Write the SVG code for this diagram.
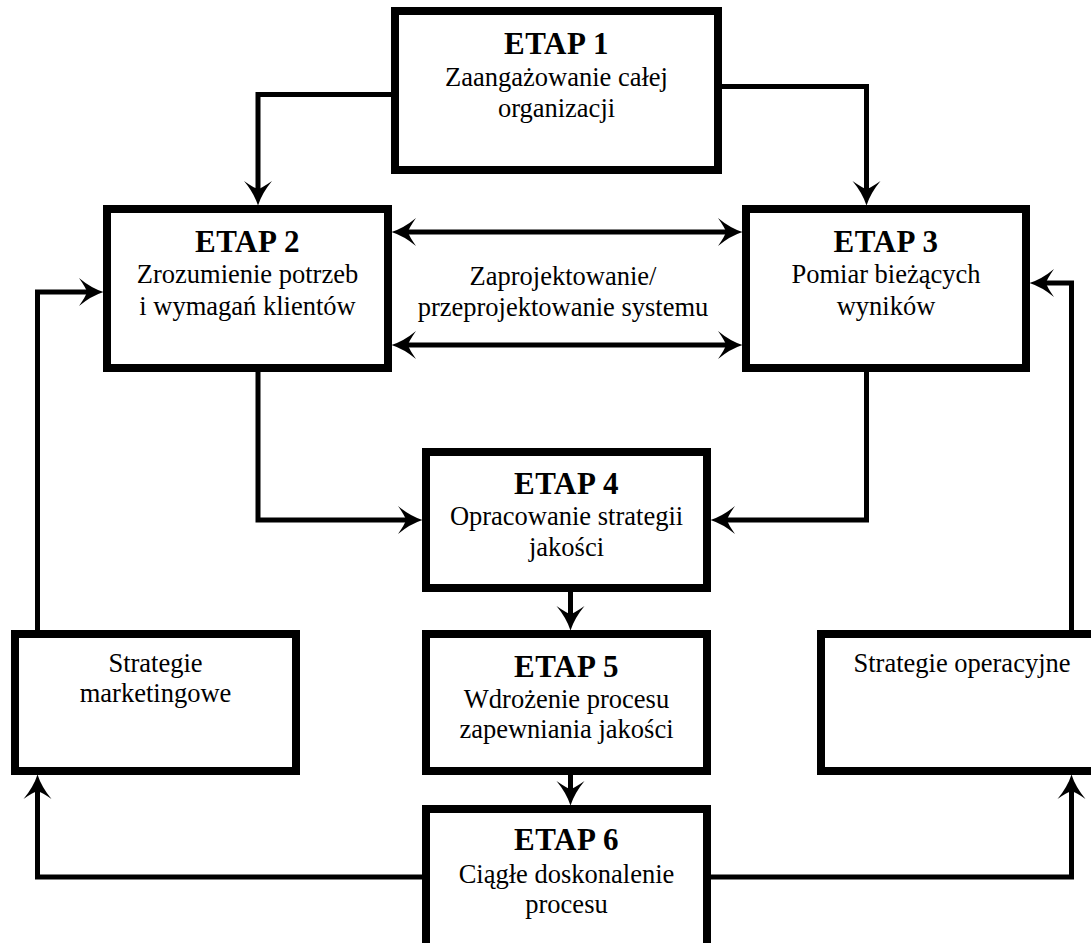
<svg xmlns="http://www.w3.org/2000/svg" width="1091" height="943" viewBox="0 0 1091 943">
<style>
.box{fill:#fff;stroke:#000;stroke-width:8}
.con{fill:none;stroke:#000;stroke-width:5;stroke-linejoin:miter}
text{font-family:"Liberation Serif","Times New Roman",serif;fill:#000;text-anchor:middle}
.t{font-size:31px;font-weight:bold;letter-spacing:0.5px}
.s{font-size:26.5px}
</style>
<defs>
<marker id="ah" markerUnits="userSpaceOnUse" viewBox="-14 -16 30 32" refX="0" refY="0" markerWidth="30" markerHeight="32" orient="auto-start-reverse">
<path d="M12.5,0 Q0,4 -12,14 Q-5,4 -4,0 Q-5,-4 -12,-14 Q0,-4 12.5,0 Z" fill="#000"/>
</marker>
</defs>
<rect width="1091" height="943" fill="#fff"/>
<g id="connectors">
<path class="con" d="M391,94.5 H258 V193" marker-end="url(#ah)"/>
<path class="con" d="M722,86.5 H866.5 V193" marker-end="url(#ah)"/>
<path class="con" d="M404,232 H730" marker-start="url(#ah)" marker-end="url(#ah)"/>
<path class="con" d="M404,345 H730" marker-start="url(#ah)" marker-end="url(#ah)"/>
<path class="con" d="M258,372 V520 H410" marker-end="url(#ah)"/>
<path class="con" d="M866.5,372 V520 H723" marker-end="url(#ah)"/>
<path class="con" d="M570.5,592 V618" marker-end="url(#ah)"/>
<path class="con" d="M570.5,775 V793" marker-end="url(#ah)"/>
<path class="con" d="M422,877 H37.5 V787" marker-end="url(#ah)"/>
<path class="con" d="M711,877 H1071.5 V787" marker-end="url(#ah)"/>
<path class="con" d="M37.5,630 V292 H91" marker-end="url(#ah)"/>
<path class="con" d="M1071.5,630 V283 H1042" marker-end="url(#ah)"/>
</g>
<g id="etap1">
<rect class="box" x="395" y="11" width="323" height="159"/>
<text class="t" x="556.5" y="54">ETAP 1</text>
<text class="s" x="556.5" y="86">Zaangażowanie całej</text>
<text class="s" x="556.5" y="117">organizacji</text>
</g>
<g id="etap2">
<rect class="box" x="107" y="209" width="281" height="159"/>
<text class="t" x="247.5" y="252">ETAP 2</text>
<text class="s" x="247.5" y="283">Zrozumienie potrzeb</text>
<text class="s" x="247.5" y="315">i wymagań klientów</text>
</g>
<g id="etap3">
<rect class="box" x="746" y="209" width="280" height="159"/>
<text class="t" x="886" y="252">ETAP 3</text>
<text class="s" x="886" y="283">Pomiar bieżących</text>
<text class="s" x="886" y="315">wyników</text>
</g>
<g id="projektowanie">
<text class="s" x="563" y="285">Zaprojektowanie/</text>
<text class="s" x="563" y="316">przeprojektowanie systemu</text>
</g>
<g id="etap4">
<rect class="box" x="426" y="452" width="281" height="136"/>
<text class="t" x="566.5" y="494">ETAP 4</text>
<text class="s" x="566.5" y="525">Opracowanie strategii</text>
<text class="s" x="566.5" y="556">jakości</text>
</g>
<g id="etap5">
<rect class="box" x="426" y="634" width="281" height="137"/>
<text class="t" x="566.5" y="677">ETAP 5</text>
<text class="s" x="566.5" y="708">Wdrożenie procesu</text>
<text class="s" x="566.5" y="738">zapewniania jakości</text>
</g>
<g id="etap6">
<rect class="box" x="426" y="809" width="281" height="142"/>
<text class="t" x="566.5" y="850">ETAP 6</text>
<text class="s" x="566.5" y="883">Ciągłe doskonalenie</text>
<text class="s" x="566.5" y="913">procesu</text>
</g>
<g id="marketing">
<rect class="box" x="15" y="634" width="281" height="137"/>
<text class="s" x="155.5" y="672">Strategie</text>
<text class="s" x="155.5" y="702">marketingowe</text>
</g>
<g id="operacyjne">
<rect class="box" x="821" y="634" width="282" height="137"/>
<text class="s" x="962" y="672">Strategie operacyjne</text>
</g>
</svg>
